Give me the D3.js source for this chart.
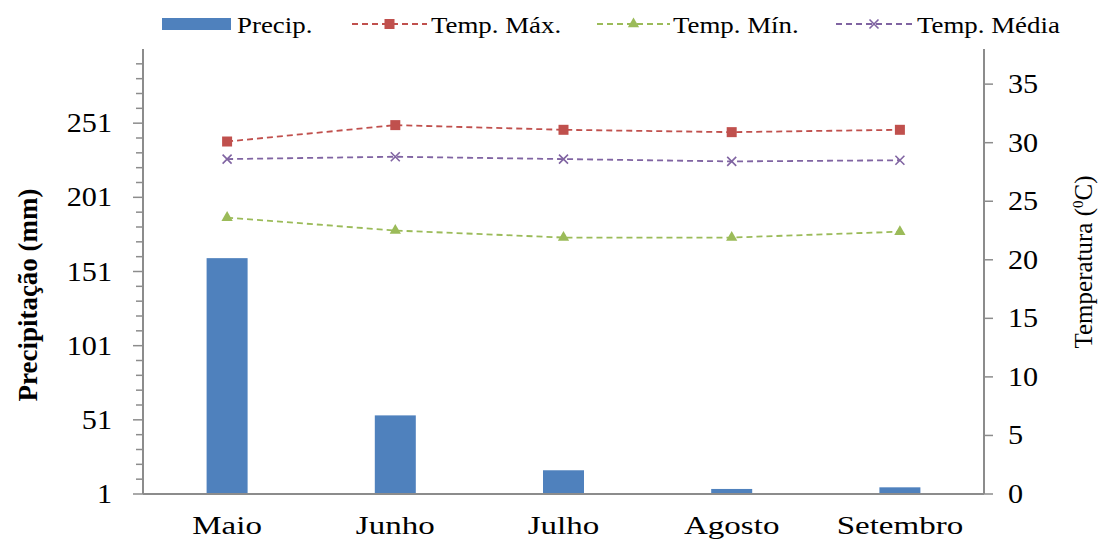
<!DOCTYPE html>
<html>
<head>
<meta charset="utf-8">
<script src="https://cdn.jsdelivr.net/npm/d3@7"></script>
<style>
  html, body { margin: 0; padding: 0; background: #fff; }
  svg { display: block; }
  text { font-family: "Liberation Serif", "Times New Roman", serif; fill: #000; }
</style>
</head>
<body>
<svg id="chart" width="1099" height="542"></svg>
<script>
// ---- data ----
const months = ["Maio", "Junho", "Julho", "Agosto", "Setembro"];
const precip = [160, 54, 17, 4.4, 5.5];
const tempMax = [30.1, 31.5, 31.1, 30.9, 31.1];
const tempMin = [23.6, 22.5, 21.9, 21.9, 22.4];
const tempMedia = [28.6, 28.8, 28.6, 28.4, 28.5];
const leftTicks = [1, 51, 101, 151, 201, 251];
const leftMinor = d3.range(11, 300, 10).filter(v => !leftTicks.includes(v));
const rightTicks = [0, 5, 10, 15, 20, 25, 30, 35];
const legendLabels = ["Precip.", "Temp. Máx.", "Temp. Mín.", "Temp. Média"];

// ---- layout ----
const svg = d3.select("#chart");
const L = 143, R = 984, T = 49, B = 494;
const colors = { bar: "#4F81BD", max: "#C0504D", min: "#9BBB59", med: "#8064A2" };
const axisColor = "#8C8C8C";

const x = d3.scaleBand().domain(months).range([L, R]).paddingInner(0).paddingOuter(0);
const yL = d3.scaleLinear().domain([1, 301]).range([B, T]);
const yR = d3.scaleLinear().domain([0, 38]).range([B, T]);
const cx = m => x(m) + x.bandwidth() / 2;
const barW = 41;

// bars
svg.append("g").selectAll("rect").data(months).join("rect")
  .attr("x", m => cx(m) - barW / 2)
  .attr("width", barW)
  .attr("y", (m, i) => yL(precip[i]))
  .attr("height", (m, i) => yL(1) - yL(precip[i]))
  .attr("fill", colors.bar);

// axes
const gL = svg.append("g").attr("transform", `translate(${L},0)`);
gL.append("line").attr("y1", T).attr("y2", B).attr("stroke", axisColor).attr("stroke-width", 2);
gL.selectAll("line.minor").data(leftMinor).join("line").attr("class", "minor")
  .attr("x1", -7).attr("x2", 0).attr("y1", d => yL(d)).attr("y2", d => yL(d))
  .attr("stroke", axisColor).attr("stroke-width", 1.5);
gL.selectAll("line.major").data(leftTicks).join("line").attr("class", "major")
  .attr("x1", -10).attr("x2", 0).attr("y1", d => yL(d)).attr("y2", d => yL(d))
  .attr("stroke", axisColor).attr("stroke-width", 1.5);
gL.selectAll("text").data(leftTicks).join("text")
  .attr("text-anchor", "end")
  .attr("transform", d => `translate(-31,${yL(d) + 9}) scale(1.12,1)`)
  .style("font-size", "27px")
  .text(d => d);

const gR = svg.append("g").attr("transform", `translate(${R},0)`);
gR.append("line").attr("y1", T).attr("y2", B).attr("stroke", axisColor).attr("stroke-width", 2);
gR.selectAll("line.major").data(rightTicks).join("line").attr("class", "major")
  .attr("x1", 0).attr("x2", 9).attr("y1", d => yR(d)).attr("y2", d => yR(d))
  .attr("stroke", axisColor).attr("stroke-width", 1.5);
gR.selectAll("text").data(rightTicks).join("text")
  .attr("text-anchor", "start")
  .attr("transform", d => `translate(24,${yR(d) + 9}) scale(1.12,1)`)
  .style("font-size", "27px")
  .text(d => d);

// bottom baseline
svg.append("line").attr("x1", L).attr("x2", R).attr("y1", B).attr("y2", B)
  .attr("stroke", axisColor).attr("stroke-width", 2);

// category labels
svg.append("g").selectAll("text").data(months).join("text")
  .attr("text-anchor", "middle")
  .attr("transform", m => `translate(${cx(m)},534) scale(1.27,1)`)
  .style("font-size", "26px")
  .text(m => m);

// lines
const series = [
  { vals: tempMax, color: colors.max, marker: "square" },
  { vals: tempMin, color: colors.min, marker: "triangle" },
  { vals: tempMedia, color: colors.med, marker: "x" }
];
const lineGen = d3.line().x((v, i) => cx(months[i])).y(v => yR(v));

function drawMarker(g, type, color) {
  if (type === "square") {
    g.append("rect").attr("x", -5).attr("y", -5).attr("width", 10).attr("height", 10).attr("fill", color);
  } else if (type === "triangle") {
    g.append("path").attr("d", d3.symbol(d3.symbolTriangle, 55)()).attr("fill", color);
  } else {
    g.append("path").attr("d", "M-4.5,-4.5L4.5,4.5M-4.5,4.5L4.5,-4.5")
      .attr("stroke", color).attr("stroke-width", 1.6).attr("fill", "none");
  }
}

series.forEach(s => {
  svg.append("path").datum(s.vals)
    .attr("d", lineGen)
    .attr("fill", "none")
    .attr("stroke", s.color)
    .attr("stroke-width", 1.8)
    .attr("stroke-dasharray", "6,4");
  s.vals.forEach((v, i) => {
    const g = svg.append("g").attr("transform", `translate(${cx(months[i])},${yR(v)})`);
    drawMarker(g, s.marker, s.color);
  });
});

// axis titles
svg.append("text")
  .attr("transform", "translate(37,295) rotate(-90)")
  .attr("text-anchor", "middle")
  .style("font-size", "27px").style("font-weight", "bold")
  .text("Precipitação (mm)");

const rt = svg.append("text")
  .attr("transform", "translate(1092,262) rotate(-90)")
  .attr("text-anchor", "middle")
  .style("font-size", "25px");
rt.append("tspan").text("Temperatura (");
rt.append("tspan").attr("dy", -9).style("font-size", "15px").text("0");
rt.append("tspan").attr("dy", 9).text("C)");

// legend
const leg = svg.append("g");
leg.append("rect").attr("x", 162).attr("y", 18).attr("width", 69).attr("height", 12).attr("fill", colors.bar);
const legText = [
  { x: 237, t: legendLabels[0] },
  { x: 431, t: legendLabels[1] },
  { x: 673, t: legendLabels[2] },
  { x: 917, t: legendLabels[3] }
];
leg.selectAll("text").data(legText).join("text")
  .attr("transform", d => `translate(${d.x},33) scale(1.12,1)`)
  .style("font-size", "24px")
  .text(d => d.t);
const legLines = [
  { x1: 352, x2: 427, s: series[0] },
  { x1: 597, x2: 670, s: series[1] },
  { x1: 836, x2: 912, s: series[2] }
];
legLines.forEach(l => {
  leg.append("line").attr("x1", l.x1).attr("x2", l.x2).attr("y1", 24).attr("y2", 24)
    .attr("stroke", l.s.color).attr("stroke-width", 1.8).attr("stroke-dasharray", "6,4");
  const g = leg.append("g").attr("transform", `translate(${(l.x1 + l.x2) / 2},24)`);
  drawMarker(g, l.s.marker, l.s.color);
});
</script>
</body>
</html>
